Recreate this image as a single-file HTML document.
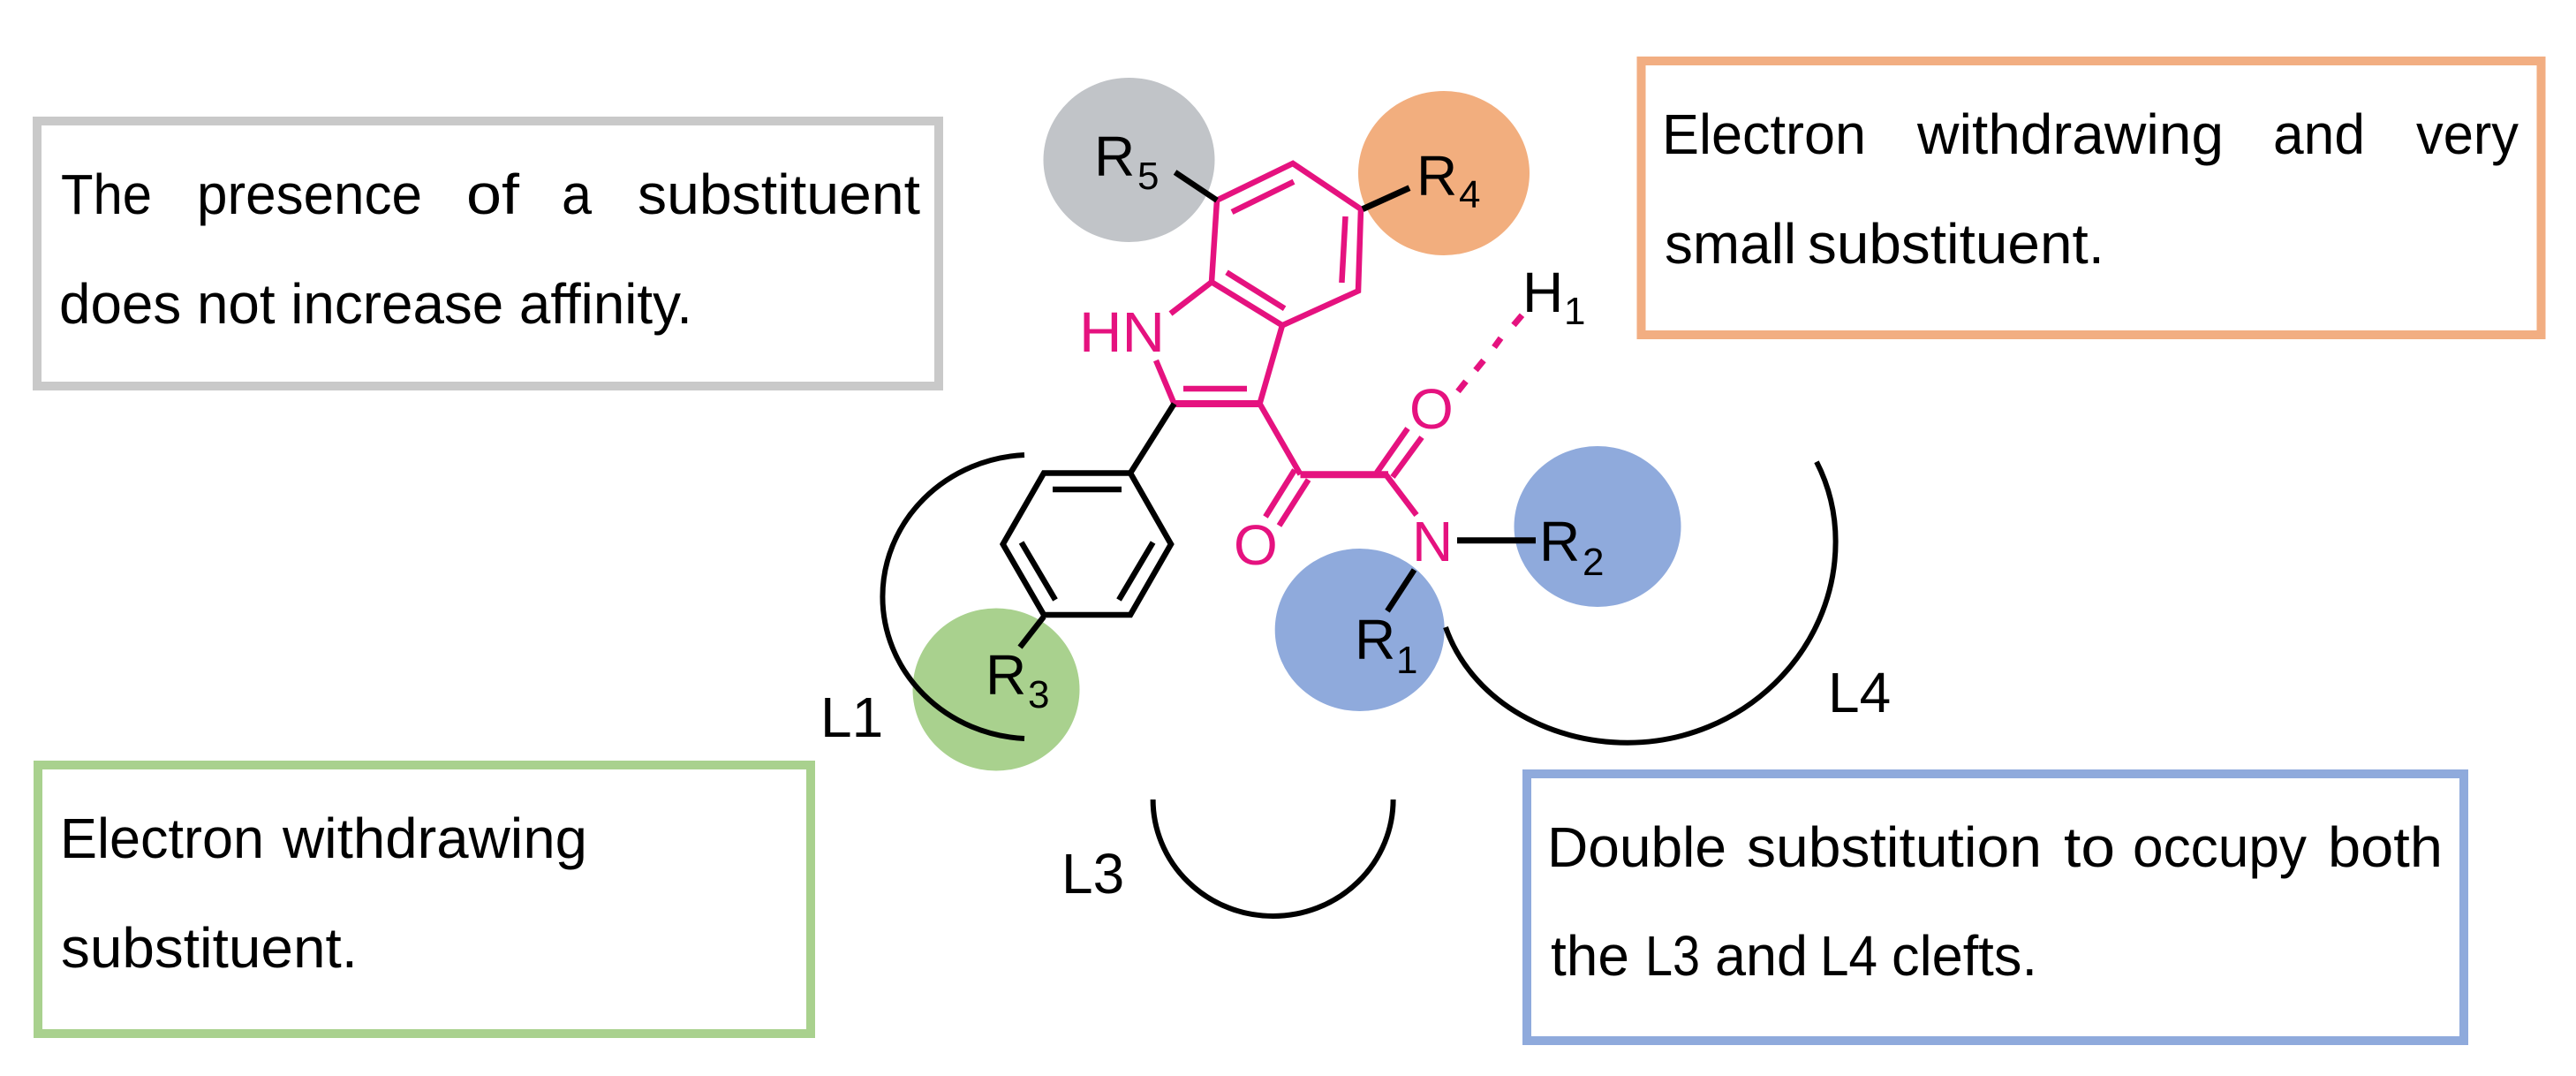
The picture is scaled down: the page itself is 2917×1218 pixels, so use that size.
<!DOCTYPE html>
<html><head><meta charset="utf-8">
<style>
html,body{margin:0;padding:0;background:#fff;width:2917px;height:1218px;overflow:hidden}
svg{display:block}
text{font-family:"Liberation Sans",Arial,sans-serif;fill:#000}
.t{font-size:64px}
.c{font-size:64px}
.s{font-size:44px}
.p{fill:#e5127f}
</style></head><body>
<svg width="2917" height="1218" viewBox="0 0 2917 1218" xmlns="http://www.w3.org/2000/svg">
<rect width="2917" height="1218" fill="#fff"/>

<!-- boxes -->
<g fill="none" stroke-width="10">
<rect x="42" y="137" width="1021" height="300" stroke="#c9c9c9"/>
<rect x="1858.5" y="69" width="1019" height="310" stroke="#f2ae82"/>
<rect x="43" y="866" width="875" height="304" stroke="#a9d18e"/>
<rect x="1729" y="876" width="1061" height="302" stroke="#8faadc"/>
</g>

<!-- box text -->
<text class="t" x="69" y="242" textLength="103" lengthAdjust="spacingAndGlyphs">The</text>
<text class="t" x="223" y="242" textLength="255" lengthAdjust="spacingAndGlyphs">presence</text>
<text class="t" x="528" y="242" textLength="60" lengthAdjust="spacingAndGlyphs">of</text>
<text class="t" x="636" y="242" textLength="34" lengthAdjust="spacingAndGlyphs">a</text>
<text class="t" x="722" y="242" textLength="320" lengthAdjust="spacingAndGlyphs">substituent</text>
<text class="t" x="67" y="366" textLength="717" lengthAdjust="spacingAndGlyphs">does not increase affinity.</text>

<text class="t" x="1882" y="174" textLength="231" lengthAdjust="spacingAndGlyphs">Electron</text>
<text class="t" x="2171" y="174" textLength="347" lengthAdjust="spacingAndGlyphs">withdrawing</text>
<text class="t" x="2574" y="174" textLength="104" lengthAdjust="spacingAndGlyphs">and</text>
<text class="t" x="2736" y="174" textLength="116" lengthAdjust="spacingAndGlyphs">very</text>
<text class="t" x="1885" y="298" textLength="149" lengthAdjust="spacingAndGlyphs">small</text>
<text class="t" x="2047" y="298" textLength="336" lengthAdjust="spacingAndGlyphs">substituent.</text>

<text class="t" x="68" y="971" textLength="231" lengthAdjust="spacingAndGlyphs">Electron</text>
<text class="t" x="320" y="971" textLength="345" lengthAdjust="spacingAndGlyphs">withdrawing</text>
<text class="t" x="69" y="1095" textLength="336" lengthAdjust="spacingAndGlyphs">substituent.</text>

<text class="t" x="1752" y="981" textLength="203" lengthAdjust="spacingAndGlyphs">Double</text>
<text class="t" x="1978" y="981" textLength="334" lengthAdjust="spacingAndGlyphs">substitution</text>
<text class="t" x="2337" y="981" textLength="58" lengthAdjust="spacingAndGlyphs">to</text>
<text class="t" x="2415" y="981" textLength="197" lengthAdjust="spacingAndGlyphs">occupy</text>
<text class="t" x="2636" y="981" textLength="130" lengthAdjust="spacingAndGlyphs">both</text>
<text class="t" x="1756" y="1104" textLength="89" lengthAdjust="spacingAndGlyphs">the</text>
<text class="t" x="1863" y="1104" textLength="62" lengthAdjust="spacingAndGlyphs">L3</text>
<text class="t" x="1942" y="1104" textLength="105" lengthAdjust="spacingAndGlyphs">and</text>
<text class="t" x="2061" y="1104" textLength="65" lengthAdjust="spacingAndGlyphs">L4</text>
<text class="t" x="2142" y="1104" textLength="165" lengthAdjust="spacingAndGlyphs">clefts.</text>

<!-- ellipses -->
<ellipse cx="1278.5" cy="181" rx="97" ry="93" fill="#c1c4c8"/>
<ellipse cx="1635" cy="196" rx="97" ry="93" fill="#f2ae7e"/>
<ellipse cx="1128" cy="780.5" rx="94.5" ry="92" fill="#a9d18e"/>
<ellipse cx="1539.7" cy="713" rx="96" ry="92" fill="#8faadc"/>
<ellipse cx="1809" cy="596" rx="94.5" ry="91" fill="#8faadc"/>

<!-- pink skeleton -->
<g fill="none" stroke="#e5127f" stroke-width="6.5" stroke-linecap="butt" stroke-linejoin="miter">
<path d="M1378 226.7L1464 185L1541 236.7L1538 329.3L1452 368.3L1372 319.3Z"/>
<path d="M1395 240L1465 205.7M1523.5 245L1519.4 320M1389 308.3L1454.6 349.3"/>
<path d="M1372 319.3L1325.5 355M1309 408L1329.6 457"/>
<path d="M1329.6 457H1426.5" stroke-width="8"/>
<path d="M1340 440H1412"/>
<path d="M1426.5 457L1452 368.3M1426.5 457L1472.5 537"/>
<path d="M1472.5 537.3H1572" stroke-width="8"/>
<path d="M1559 535L1594 485M1577 540L1610 495"/>
<path d="M1466 532L1433 585M1481.6 543L1448.5 595"/>
<path d="M1568 535.5L1604 583"/>
<path d="M1651 443L1660 431.7M1671 419L1680 408M1692 393L1699.5 382.7M1714 368L1723.5 356.7" stroke-width="7"/>
</g>

<!-- black skeleton -->
<g fill="none" stroke="#000" stroke-width="6.5" stroke-linecap="butt" stroke-linejoin="miter">
<path d="M1280 535.5H1182L1135.7 616L1182 696H1280L1326 616Z"/>
<path d="M1192 554H1270M1156.6 614L1195 679M1305.6 614L1267 679"/>
<path d="M1329.6 457L1280 535.5"/>
<path d="M1182 698L1155 732.6"/>
<path d="M1330.6 195L1378 226.7"/>
<path d="M1543 236.7L1596 212.7" stroke-width="7"/>
<path d="M1650 611.7H1739" stroke-width="7"/>
<path d="M1601.5 645L1571 691.7"/>
<path d="M1160 515A169 160.7 0 0 0 1160 836" stroke-width="6"/>
<path d="M1305.6 905A136 132 0 0 0 1577.6 905" stroke-width="6"/>
<path d="M1637 710C1665 790 1750 840.7 1843 840.7C1973 840.7 2078.6 738 2078.6 613C2078.6 580 2071 550 2057 522.7" stroke-width="6"/>
</g>

<!-- pink labels -->
<text class="c p" x="1222" y="398" textLength="97" lengthAdjust="spacingAndGlyphs">HN</text>
<text class="c p" x="1596" y="485">O</text>
<text class="c p" x="1397" y="639">O</text>
<text class="c p" x="1599" y="635">N</text>

<!-- black labels -->
<text class="c" x="1239" y="199">R</text><text class="s" x="1288" y="214">5</text>
<text class="c" x="1604" y="221">R</text><text class="s" x="1652" y="235">4</text>
<text class="c" x="1724" y="353">H</text><text class="s" x="1771" y="367">1</text>
<text class="c" x="1116" y="786">R</text><text class="s" x="1164" y="801">3</text>
<text class="c" x="1534" y="746">R</text><text class="s" x="1581" y="762">1</text>
<text class="c" x="1743" y="635">R</text><text class="s" x="1792" y="651">2</text>
<text class="c" x="929" y="834">L1</text>
<text class="c" x="1202" y="1011">L3</text>
<text class="c" x="2070" y="806">L4</text>
</svg>
</body></html>
